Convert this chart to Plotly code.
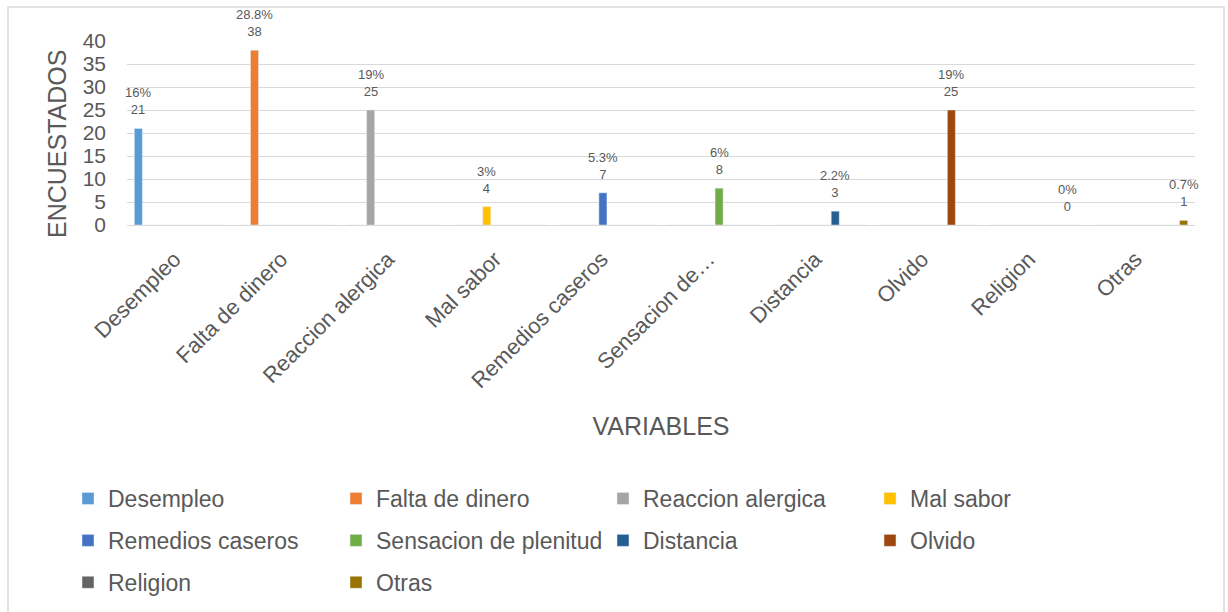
import plotly.graph_objects as go

categories = ["Desempleo", "Falta de dinero", "Reaccion alergica", "Mal sabor",
              "Remedios caseros", "Sensacion de plenitud", "Distancia", "Olvido",
              "Religion", "Otras"]
tick_labels = ["Desempleo", "Falta de dinero", "Reaccion alergica", "Mal sabor",
               "Remedios caseros", "Sensacion de…", "Distancia", "Olvido",
               "Religion", "Otras"]
counts = [21, 38, 25, 4, 7, 8, 3, 25, 0, 1]
percent_labels = ["16%", "28.8%", "19%", "3%", "5.3%", "6%", "2.2%", "19%", "0%", "0.7%"]
colors = ["#5B9BD5", "#ED7D31", "#A5A5A5", "#FFC000", "#4472C4",
          "#70AD47", "#255E91", "#9E480E", "#636363", "#997300"]
legend_ids = ["legend", "legend2", "legend3", "legend4"]

TEXT = "#595959"
FONT = "Liberation Sans, Arial, sans-serif"
BARGAP = 0.125
N = len(categories)

fig = go.Figure()
for i, name in enumerate(categories):
    y = [counts[i] if j == i else 0 for j in range(N)]
    fig.add_trace(go.Bar(
        x=list(range(N)), y=y, name=name, marker_color=colors[i],
        legend=legend_ids[i % 4], legendgroup=name, hoverinfo="skip",
    ))

L, R, T, B = 127, 33, 41, 387
W, H = 1228, 612
pw, ph = W - L - R, H - T - B


def px_x(p):
    return (p - L) / pw


def px_y(p):
    return (H - B - p) / ph


# data labels placed at each series' own slot inside its category group
annotations = []
for i in range(N):
    slot_center = i - (1 - BARGAP) / 2 + (1 - BARGAP) * (i + 0.5) / N
    annotations.append(dict(
        x=slot_center, y=counts[i], xref="x", yref="y",
        text=f"{percent_labels[i]}<br>{counts[i]}", showarrow=False,
        yanchor="bottom", yshift=9,
        font=dict(size=13, color=TEXT, family=FONT),
    ))
# y axis title
annotations.append(dict(
    x=px_x(57), y=px_y(144), xref="paper", yref="paper",
    text="ENCUESTADOS", textangle=-90, showarrow=False,
    xanchor="center", yanchor="middle",
    font=dict(size=25, color=TEXT, family=FONT),
))

legend_common = dict(
    font=dict(size=23, color=TEXT, family=FONT),
    orientation="v", xanchor="left", yanchor="top",
    tracegroupgap=9, bgcolor="rgba(0,0,0,0)", itemclick=False,
)
text_starts = [108, 376, 643, 910]
lay_legends = {}
for k, lid in enumerate(legend_ids):
    lay_legends[lid] = dict(legend_common, x=px_x(text_starts[k] - 40), y=px_y(477))

fig.update_layout(
    width=W, height=H,
    margin=dict(l=L, r=R, t=T, b=B, autoexpand=False),
    paper_bgcolor="white", plot_bgcolor="white",
    barmode="group", bargap=BARGAP, bargroupgap=0.14,
    font=dict(family=FONT, color=TEXT),
    showlegend=True,
    xaxis=dict(
        tickmode="array", tickvals=list(range(N)), ticktext=tick_labels,
        range=[-0.5, N - 0.5],
        tickangle=-45, tickfont=dict(size=22, color=TEXT, family=FONT),
        ticklabelstandoff=16, ticklabelshift=-6,
        showgrid=False, showline=False, ticks="", zeroline=False,
        title=dict(text="VARIABLES", font=dict(size=25, color=TEXT, family=FONT), standoff=25),
        automargin=False,
    ),
    yaxis=dict(
        range=[0, 40], dtick=5, tickfont=dict(size=21, color=TEXT, family=FONT),
        showgrid=True, gridcolor="#D9D9D9", gridwidth=1,
        zeroline=True, zerolinecolor="#D9D9D9", zerolinewidth=1,
        showline=False, ticks="", ticklabelstandoff=20,
        automargin=False,
    ),
    annotations=annotations,
    shapes=[dict(type="rect", xref="paper", yref="paper",
                 x0=px_x(8), x1=px_x(1224), y0=px_y(7), y1=px_y(640),
                 line=dict(color="#D9D9D9", width=1.5), fillcolor="rgba(0,0,0,0)", layer="below")],
    **lay_legends,
)

fig.write_html("out.html", config={"displayModeBar": False},
               post_script="document.body.style.margin='0';")
